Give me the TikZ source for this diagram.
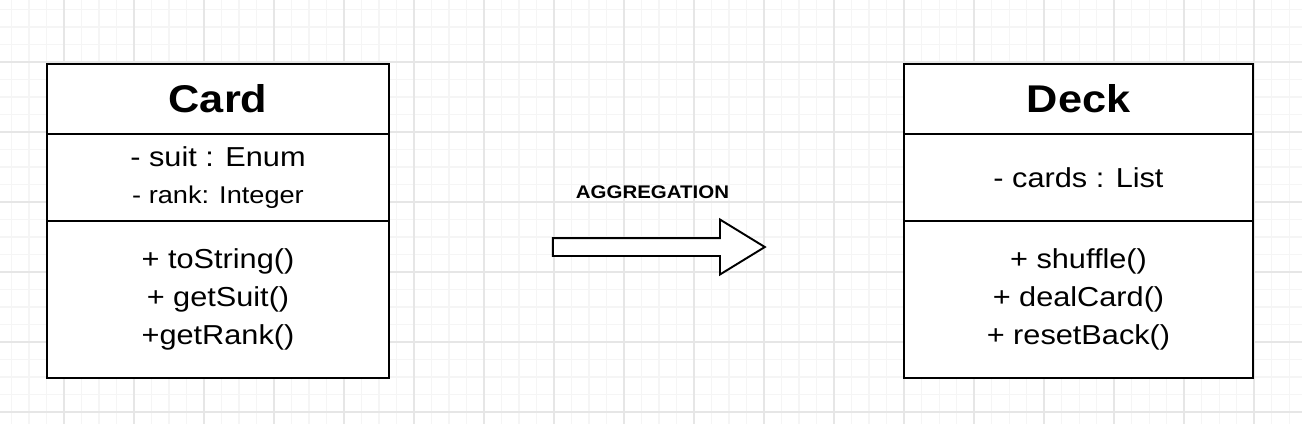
\documentclass[tikz,border=0pt]{standalone}
\usepackage{fontspec}
\setmainfont[FakeStretch=1.12]{Liberation Sans}
\usepackage{xcolor}
\usepackage{tikz}
\usetikzlibrary{shapes.arrows, positioning}

\definecolor{gridminor}{HTML}{F5F5F5}
\definecolor{gridmajor}{HTML}{E6E6E6}

\begin{document}
\begin{tikzpicture}[node distance=0cm,
    classhead/.style={rectangle, draw, fill=white, line width=0.55pt, outer sep=0pt, inner sep=0pt, minimum height=0.70cm, font=\bfseries\fontsize{11}{13}\selectfont},
    classpart/.style={rectangle, draw, fill=white, line width=0.55pt, outer sep=0pt, inner sep=0pt, align=center, font=\fontsize{7.8}{10.9}\selectfont},
    blockarrow/.style={single arrow, draw, fill=white, line width=0.55pt, inner xsep=0pt, inner ysep=0.08cm, text height=0pt, text depth=0pt, single arrow head extend=0.185cm, single arrow tip angle=63, minimum height=2.12cm},
    tag/.style={font=\bfseries\fontsize{5.2}{6}\selectfont}]

    % Background grid
    \useasboundingbox (0,0) rectangle (13.02,4.23);
    \begin{scope}
      \clip (0,0) rectangle (13.02,4.23);
      \fill[white] (0,0) rectangle (13.02,4.23);
      \draw[gridminor, line width=0.3pt, xshift=0.115cm, yshift=0.11cm, step=0.175cm] (-1,-1) grid (14,5);
      \draw[gridmajor, line width=0.3pt, xshift=0.64cm, yshift=0.11cm, step=0.7cm] (-1,-1) grid (14,5);
    \end{scope}

    % Nodes
    \node [classhead, minimum width=3.42cm] (cardname) at (2.18,3.24) {Card};
    \node [classpart, minimum width=3.42cm, minimum height=0.87cm, below=of cardname] (cardattr)
      {- suit : Enum\\[-0.5pt]{\fontsize{6.9}{10}\selectfont - rank: Integer}};
    \node [classpart, minimum width=3.42cm, minimum height=1.57cm, below=of cardattr] (cardops)
      {+ toString()\\+ getSuit()\\+getRank()};

    \node [classhead, minimum width=3.49cm] (deckname) at (10.785,3.24) {Deck};
    \node [classpart, minimum width=3.49cm, minimum height=0.87cm, below=of deckname] (deckattr) {- cards : List};
    \node [classpart, minimum width=3.49cm, minimum height=1.57cm, below=of deckattr] (deckops)
      {+ shuffle()\\+ dealCard()\\+ resetBack()};

    % Arrows
    \node [blockarrow] (agg) at (6.515,1.76) {};
    \node [tag] (agglabel) at (6.525,2.31) {AGGREGATION};

\end{tikzpicture}
\end{document}
